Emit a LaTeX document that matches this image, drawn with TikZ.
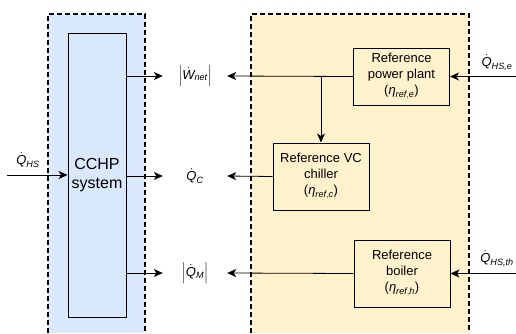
\documentclass[tikz,border=0pt]{standalone}
\usepackage{amsmath}
\usepackage{fontspec}
\setmainfont{Liberation Sans}
\usepackage{tikz}
\usetikzlibrary{positioning,arrows.meta}

\definecolor{cchpblue}{HTML}{DAE8FC}
\definecolor{refyellow}{HTML}{FFF2CC}

% italic dotted flow quantity and efficiency
\newcommand{\rate}[2]{\dot{\text{\itshape #1}}_{\text{\itshape #2}}}
\newcommand{\eff}[1]{(\ensuremath{\text{\itshape η}_{\text{\itshape ref},\text{\itshape #1}}})}

\begin{document}
\begin{tikzpicture}[x=1pt,y=-1pt,
   every node/.style={font=\fontsize{13}{16}\selectfont},
   zone/.style={line width=1.2pt,dash pattern=on 5pt off 3pt},
   unit/.style={draw,line width=1pt,fill=refyellow,align=center,
                minimum width=96pt,minimum height=66pt,inner sep=1pt},
   quantity/.style={minimum width=64pt,inner sep=0pt},
   flow/.style={line width=0.8pt,-{Stealth[length=9pt,width=8pt,inset=2.5pt]}}]

\useasboundingbox (0,0) rectangle (516,333);

% dashed zones, open at the bottom
\fill[cchpblue] (48,14) rectangle (145,333);
\draw[zone] (48,333) -- (48,14) -- (145,14) -- (145,333);
\fill[refyellow] (251,14) rectangle (469,333);
\draw[zone] (251,333) -- (251,14) -- (469,14) -- (469,333);

% blocks
\node[draw,line width=1pt,fill=cchpblue,align=center,
      font=\fontsize{16}{19}\selectfont,
      minimum width=58pt,minimum height=284pt] (cchp) at (97,175) {CCHP\\system};
\node[unit,minimum height=57pt] (plant) at (401.5,76.5)
     {Reference\\power plant\\\eff{e}};
\node[unit,minimum height=67pt] (chiller) at (321,176.5)
     {Reference VC\\chiller\\\eff{c}};
\node[unit,minimum height=67pt] (boiler) at (402,273.5)
     {Reference\\boiler\\\eff{h}};

% compared quantities
\node[quantity] (wnet) at (195,76) {$\left|\rate{W}{net}\right|$};
\node[quantity] (qc) at (195,176) {$\rate{Q}{C}$};
\node[quantity] (qm) at (195,273) {$\left|\rate{Q}{M}\right|$};

% heat supplied
\node (qhs) at (28,160) {$\rate{Q}{HS}$};
\node (qhse) at (497,63) {$\rate{Q}{HS,e}$};
\node (qhsth) at (497,259) {$\rate{Q}{HS,th}$};
\coordinate (inL) at (7,175);
\coordinate (inE) at (516,76.5);
\coordinate (inTh) at (516,273.5);

\draw[flow] (inL) -- (cchp.west |- inL);
\draw[flow] (inE) -- (plant.east);
\draw[flow] (inTh) -- (boiler.east);

\draw[flow] (cchp.east |- wnet) -- (wnet.west);
\draw[flow] (cchp.east |- qc) -- (qc.west);
\draw[flow] (cchp.east |- qm) -- (qm.west);

\draw[flow] (plant.west) -- (wnet.east);
\draw[flow] (chiller.north |- plant.west) -- (chiller.north);
\draw[flow] (chiller.west) -- (qc.east);
\draw[flow] (boiler.west) -- (qm.east);

\end{tikzpicture}
\end{document}
